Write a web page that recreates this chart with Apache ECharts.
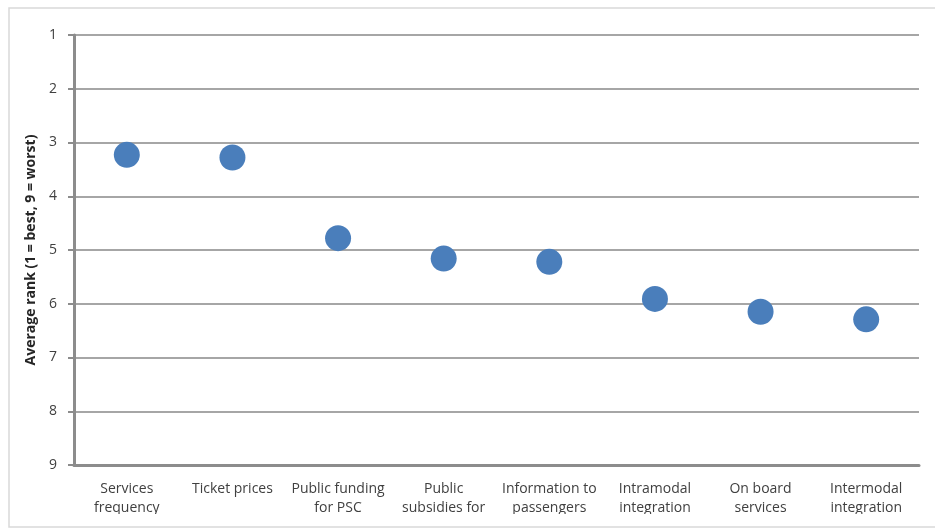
<!DOCTYPE html>
<html>
<head>
<meta charset="utf-8">
<script src="https://cdn.jsdelivr.net/npm/echarts@6/dist/echarts.min.js"></script>
<style>
html,body{margin:0;padding:0;background:#fff;}
#c{width:935px;height:530px;}
</style>
</head>
<body>
<div id="c"></div>
<script>
var categories = ["Services\nfrequency", "Ticket prices", "Public funding\nfor PSC", "Public\nsubsidies for", "Information to\npassengers", "Intramodal\nintegration", "On board\nservices", "Intermodal\nintegration"];
var avgRank = [3.23, 3.28, 4.78, 5.16, 5.22, 5.91, 6.15, 6.29];
var yTicks = [1, 2, 3, 4, 5, 6, 7, 8, 9];
var yName = "Average rank (1 = best, 9 = worst)";

var chart = echarts.init(document.getElementById('c'), null, {renderer: 'canvas'});
chart.setOption({
  animation: false,
  backgroundColor: '#ffffff',
  grid: {left: 74, right: 16, top: 35, bottom: 65, containLabel: false},
  xAxis: {
    type: 'category',
    data: categories,
    boundaryGap: true,
    axisLine: {show: true, onZero: false, lineStyle: {color: '#8c8c8c', width: 3}},
    axisTick: {show: false},
    axisLabel: {
      interval: 0,
      margin: 15,
      fontFamily: 'Open Sans',
      fontSize: 14,
      lineHeight: 19,
      color: '#404040'
    },
    splitLine: {show: false}
  },
  yAxis: {
    type: 'value',
    inverse: true,
    min: yTicks[0],
    max: yTicks[yTicks.length - 1],
    interval: 1,
    name: yName,
    nameLocation: 'middle',
    nameGap: 31,
    nameRotate: 90,
    nameTextStyle: {fontFamily: 'Open Sans', fontWeight: 'bold', fontSize: 14, color: '#262626'},
    axisLine: {show: true, lineStyle: {color: '#8c8c8c', width: 3}},
    axisTick: {show: true, inside: false, length: 6, lineStyle: {color: '#8c8c8c', width: 2}},
    axisLabel: {
      margin: 17,
      fontFamily: 'Open Sans',
      fontSize: 14,
      color: '#404040'
    },
    splitLine: {show: true, lineStyle: {color: '#a6a6a6', width: 2}}
  },
  series: [{
    type: 'scatter',
    data: avgRank,
    symbol: 'circle',
    symbolSize: 26,
    itemStyle: {color: '#4a7ebb', opacity: 1},
    z: 5
  }],
  graphic: [
    {type: 'rect', z: 100, shape: {x: 0, y: 514, width: 935, height: 16}, style: {fill: '#ffffff'}},
    {type: 'rect', z: 101, shape: {x: 9, y: 8, width: 940, height: 519}, style: {fill: 'none', stroke: '#d9d9d9', lineWidth: 1.5}}
  ]
});
</script>
</body>
</html>
